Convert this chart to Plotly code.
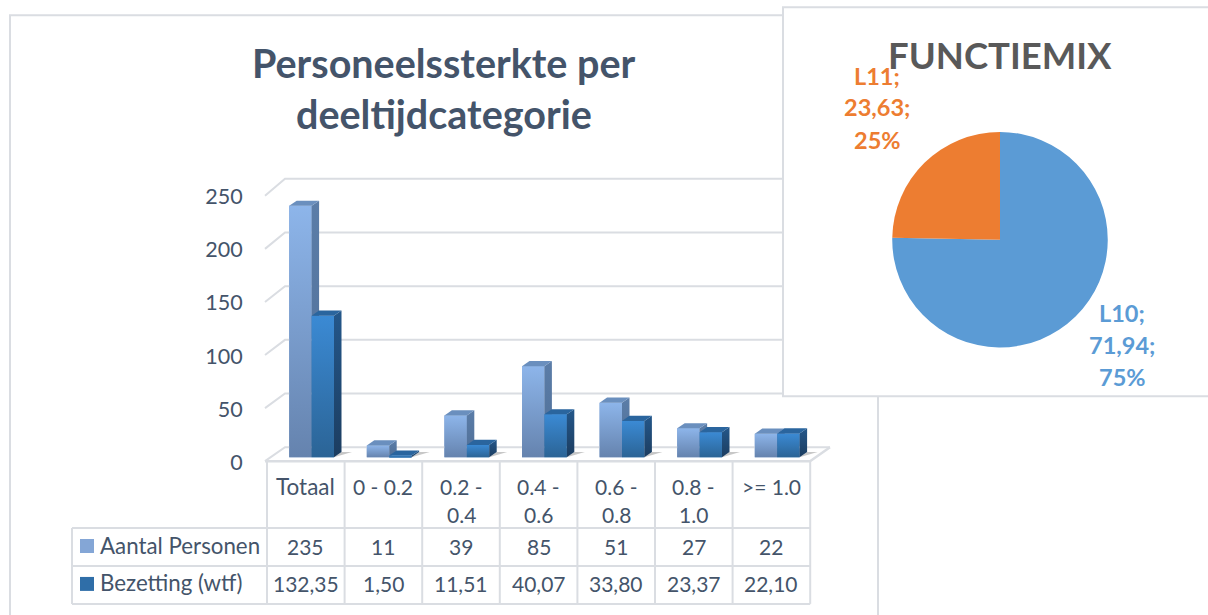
import plotly.graph_objects as go

categories = ["Totaal", "0 - 0.2", "0.2 -<br>0.4", "0.4 -<br>0.6", "0.6 -<br>0.8", "0.8 -<br>1.0", ">= 1.0"]
aantal = [235, 11, 39, 85, 51, 27, 22]
bezetting = [132.35, 1.50, 11.51, 40.07, 33.80, 23.37, 22.10]
aantal_labels = ["235", "11", "39", "85", "51", "27", "22"]
bezetting_labels = ["132,35", "1,50", "11,51", "40,07", "33,80", "23,37", "22,10"]
series_names = ["Aantal Personen", "Bezetting (wtf)"]
y_ticks = [0, 50, 100, 150, 200, 250]
pie_labels = ["L10", "L11"]
pie_values = [71.94, 23.63]
pie_value_text = ["71,94", "23,63"]
pie_pct_text = ["75%", "25%"]

W, H = 1208, 615
FONT = "Lato"
TXT = "#44546A"
LINE = "#DADDE2"

# pixel geometry of the plot area
PL, PR, PT, PB = 262.0, 840.0, 172.0, 470.0
CELL = 77.6
X0PX = 267.0 + CELL / 2      # pixel of category 0
Y0PX = 458.0                 # pixel of value 0
YS = 1.072                   # px per unit
xrange_ = [(PL - X0PX) / CELL, (PR - X0PX) / CELL]
yrange_ = [(Y0PX - PB) / YS, (Y0PX - PT) / YS]

def dx(px):
    return (px - X0PX) / CELL

def dy(px):
    return (Y0PX - px) / YS

def fx(px):
    return px / W

def fy(px):
    return 1 - (px * 1.006 + 0.2) / H

BAR_W = 22.4 / CELL
BAR_SHIFT = 5.8 / CELL
DEPTH_X = 7.5 / CELL
DEPTH_Y = 5.2 / YS

fig = go.Figure()

# back wall grid + floor
for t in y_ticks:
    py_back = 448 - t * 1.076
    py_front = 462 - t * 1.064
    right = 783 if t > 0 else 830
    fig.add_trace(go.Scatter(
        x=[dx(265), dx(285), dx(right)], y=[dy(py_front), dy(py_back), dy(py_back)],
        mode="lines", line=dict(color=LINE, width=2), hoverinfo="skip", showlegend=False))
fig.add_trace(go.Scatter(
    x=[dx(265), dx(810), dx(830)], y=[dy(462), dy(462), dy(448)],
    mode="lines", line=dict(color=LINE, width=2.5), hoverinfo="skip", showlegend=False))

styles = [
    dict(front="#7D9FCF", grad=["#6583AE", "#8DB5EA"], side=["#4F6E96", "#5B7DA8"], top="#6A8FBE"),
    dict(front="#2F78BC", grad=["#2B6496", "#3B8AD4"], side=["#1C3D60", "#24578A"], top="#2A659E"),
]

# base shadows
for i, (a, b) in enumerate(zip(aantal, bezetting)):
    xr = i + BAR_SHIFT + BAR_W
    fig.add_trace(go.Scatter(
        x=[xr, xr + DEPTH_X * 2.4, xr + DEPTH_X], y=[0, DEPTH_Y, DEPTH_Y],
        fill="toself", fillcolor="rgba(70,70,70,0.30)", mode="none", hoverinfo="skip", showlegend=False))

# real bars
for s, (name, vals, st) in enumerate(zip(series_names, [aantal, bezetting], styles)):
    fig.add_trace(go.Bar(
        x=list(range(len(vals))), y=vals, name=name, width=BAR_W,
        offset=BAR_SHIFT - BAR_W if s == 0 else BAR_SHIFT,
        marker=dict(color=st["front"], line=dict(width=0)), showlegend=False,
        xaxis="x", yaxis="y"))

# 3D faces and shading computed from the values
for s, (vals, st) in enumerate(zip([aantal, bezetting], styles)):
    for i, v in enumerate(vals):
        x0 = i + BAR_SHIFT + (s - 1) * BAR_W
        x1 = x0 + BAR_W
        # front gradient
        fig.add_trace(go.Scatter(
            x=[x0, x1, x1, x0, x0], y=[0, 0, v, v, 0], fill="toself", mode="none",
            fillgradient=dict(type="vertical", colorscale=[[0, st["grad"][0]], [1, st["grad"][1]]]),
            hoverinfo="skip", showlegend=False))
        # side
        fig.add_trace(go.Scatter(
            x=[x1, x1 + DEPTH_X, x1 + DEPTH_X, x1, x1], y=[0, DEPTH_Y, v + DEPTH_Y, v, 0],
            fill="toself", mode="none",
            fillgradient=dict(type="vertical", colorscale=[[0, st["side"][0]], [1, st["side"][1]]]),
            hoverinfo="skip", showlegend=False))
        # top
        fig.add_trace(go.Scatter(
            x=[x0, x1, x1 + DEPTH_X, x0 + DEPTH_X, x0], y=[v, v, v + DEPTH_Y, v + DEPTH_Y, v],
            fill="toself", fillcolor=st["top"], mode="none", hoverinfo="skip", showlegend=False))

# carrier trace for the tick-label axis
fig.add_trace(go.Scatter(x=[0], y=[0], yaxis="y2", mode="markers", marker=dict(opacity=0),
                         hoverinfo="skip", showlegend=False))

# pie
fig.add_trace(go.Pie(
    labels=pie_labels, values=pie_values, sort=False, direction="clockwise", rotation=0,
    marker=dict(colors=["#5B9BD5", "#ED7D31"], line=dict(width=0)), textinfo="none",
    domain=dict(x=[fx(892), fx(1108)], y=[fy(348), fy(132)]), showlegend=False))

shapes = []
# outer panels
rects = [(10, 15, 878, 640), (783, 7, 1230, 397)]
for x0, y0, x1, y1 in rects:
    shapes.append(dict(type="rect", xref="paper", yref="paper", x0=fx(x0), x1=fx(x1), y0=fy(y1), y1=fy(y0),
                       fillcolor="white", line=dict(color=LINE, width=2), layer="below"))

# table
col_x = [267 + CELL * i for i in range(len(categories) + 1)]
row_y = [462, 529, 567, 605]
for cx in col_x:
    shapes.append(dict(type="line", xref="paper", yref="paper", x0=fx(cx), x1=fx(cx), y0=fy(462), y1=fy(605),
                       line=dict(color=LINE, width=2), layer="below"))
shapes.append(dict(type="line", xref="paper", yref="paper", x0=fx(72), x1=fx(72), y0=fy(529), y1=fy(605),
                   line=dict(color=LINE, width=2), layer="below"))
for ry in row_y[1:]:
    shapes.append(dict(type="line", xref="paper", yref="paper", x0=fx(72), x1=fx(col_x[-1]), y0=fy(ry), y1=fy(ry),
                       line=dict(color=LINE, width=2), layer="below"))
swatches = [("#84A6D6", 540), ("#2F6EA8", 578)]
for col, sy in swatches:
    shapes.append(dict(type="rect", xref="paper", yref="paper", x0=fx(80), x1=fx(94), y0=fy(sy + 14), y1=fy(sy),
                       fillcolor=col, line=dict(width=0)))

ann = []

def text(px, py, s, size=21, color=TXT, bold=False, anchor="center"):
    ann.append(dict(xref="paper", yref="paper", x=fx(px), y=fy(py), text=f"<b>{s}</b>" if bold else s,
                    showarrow=False, xanchor=anchor, yanchor="middle", align="center",
                    font=dict(family=FONT, size=size, color=color)))

for i, c in enumerate(categories):
    cx = col_x[i] + CELL / 2
    if "<br>" in c:
        a, b = c.split("<br>")
        text(cx, 487, a)
        text(cx, 515, b)
    else:
        text(cx, 487, c, size=22.5 if c == "Totaal" else 21)
    text(cx, 547, aantal_labels[i])
    text(cx, 585, bezetting_labels[i])
text(98, 546, series_names[0], anchor="left", size=22.3)
text(98, 584, series_names[1], anchor="left", size=22.3)

text(444, 62, "Personeelssterkte per", size=39.5, bold=True)
text(444, 114, "deeltijdcategorie", size=39.5, bold=True)
text(1000, 54.5, "FUNCTIEMIX", size=36.5, color="#595959", bold=True)

for py, s in zip([75.5, 107.5, 140.5], [pie_labels[1] + ";", pie_value_text[1] + ";", pie_pct_text[1]]):
    text(877, py, s, size=23.5, color="#ED7D31", bold=True)
for py, s in zip([313, 346, 378], [pie_labels[0] + ";", pie_value_text[0] + ";", pie_pct_text[0]]):
    text(1122, py, s, size=23.5, color="#5B9BD5", bold=True)

y2s = 1.064
Y2ZERO = 463.0
fig.update_layout(
    width=W, height=H, margin=dict(l=0, r=0, t=0, b=0),
    paper_bgcolor="white", plot_bgcolor="rgba(0,0,0,0)",
    barmode="overlay", showlegend=False, shapes=shapes, annotations=ann,
    font=dict(family=FONT, color=TXT),
    xaxis=dict(domain=[fx(PL), fx(PR)], range=xrange_, visible=False, fixedrange=True),
    yaxis=dict(domain=[fy(PB), fy(PT)], range=yrange_, visible=False, fixedrange=True),
    yaxis2=dict(overlaying="y", side="left", anchor="x",
                range=[(Y2ZERO - PB) / y2s, (Y2ZERO - PT) / y2s],
                tickmode="array", tickvals=y_ticks, ticktext=[str(t) for t in y_ticks],
                showgrid=False, zeroline=False, showline=False,
                ticks="outside", ticklen=14, tickcolor="rgba(0,0,0,0)",
                tickfont=dict(family=FONT, size=21.5, color=TXT)),
)

fig.write_html("out.html", config=dict(displayModeBar=False),
               post_script="document.body.style.margin='0';document.body.style.overflow='hidden';")
